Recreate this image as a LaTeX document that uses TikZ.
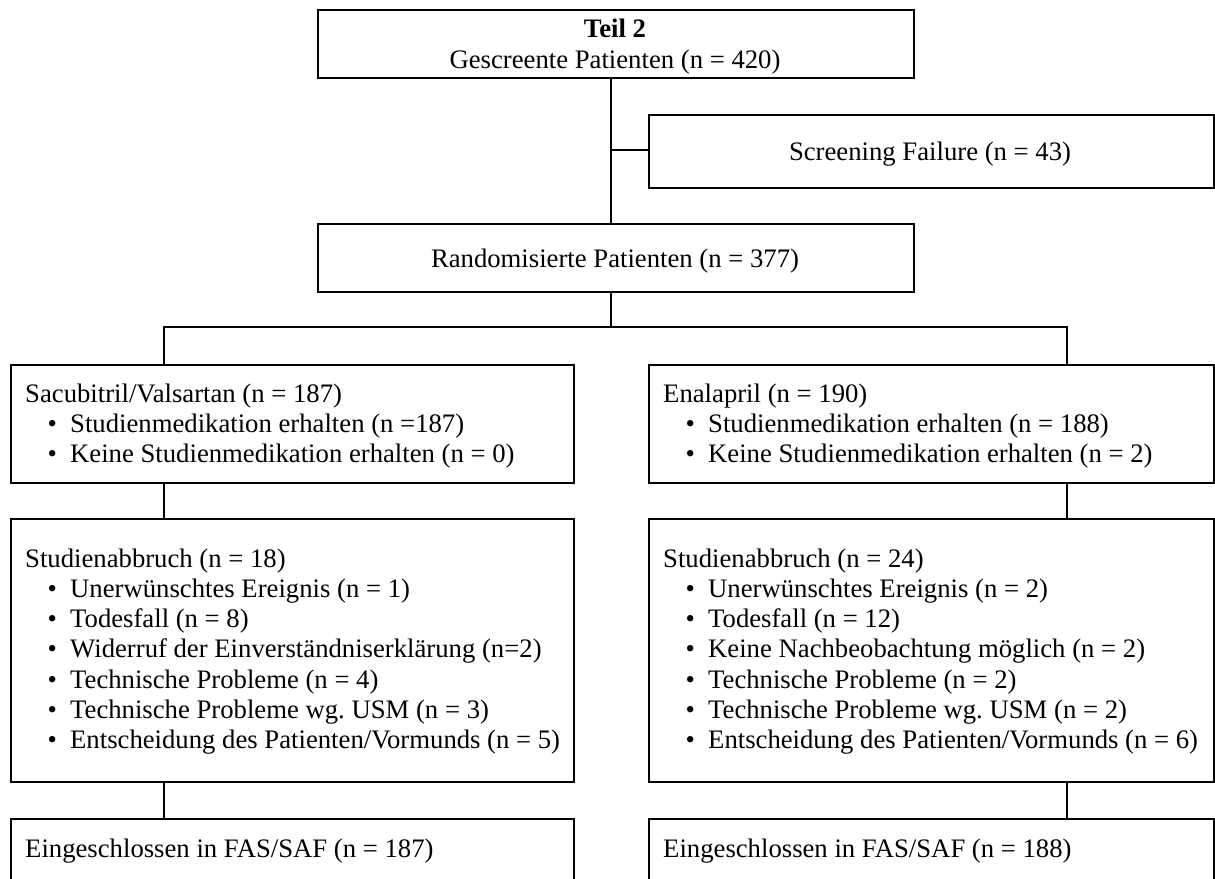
\documentclass[tikz,border=0pt]{standalone}
\usepackage{fontspec}
\setmainfont{Liberation Serif}
\newcommand\fs{\fontsize{26.7pt}{30.3pt}\selectfont\frenchspacing}
\newcommand\hl[1]{\hbox{#1}}
\newcommand\bl[1]{\hbox{\hspace*{22.5pt}\makebox[22.5pt][l]{\textbullet}#1}}
\begin{document}
\begin{tikzpicture}[x=1pt,y=-1pt,
  box/.style={draw, line width=1.6pt, inner sep=0pt, anchor=north west},
  txt/.style={inner sep=0pt, font=\fs},
  conn/.style={line width=1.6pt}]
\useasboundingbox (0,0) rectangle (1215,878);
\begin{scope}
\clip (0,0) rectangle (1215,878);
% boxes
\node[box, minimum width=596pt, minimum height=68pt] (top) at (317,9) {};
\node[box, minimum width=565pt, minimum height=73pt] (scr) at (648,114) {};
\node[box, minimum width=596pt, minimum height=68pt] (rnd) at (317,223) {};
\node[box, minimum width=563pt, minimum height=118pt] (sac) at (10,364) {};
\node[box, minimum width=565pt, minimum height=118pt] (ena) at (648,364) {};
\node[box, minimum width=563pt, minimum height=263pt] (abL) at (10,518) {};
\node[box, minimum width=565pt, minimum height=263pt] (abR) at (648,518) {};
\node[box, minimum width=563pt, minimum height=80pt] (eiL) at (10,818) {};
\node[box, minimum width=565pt, minimum height=80pt] (eiR) at (648,818) {};
% connectors
\coordinate (j1) at (611,150);
\coordinate (bC) at (611,327);
\coordinate (bL) at (164,327);
\coordinate (bR) at (1067,327);
\draw[conn] (top.south -| j1) -- (rnd.north -| j1);
\draw[conn] (j1) -- (scr.west |- j1);
\draw[conn] (rnd.south -| bC) -- (bC);
\draw[conn] (sac.north -| bL) -- (bL) -- (bR) -- (ena.north -| bR);
\draw[conn] (sac.south -| bL) -- (abL.north -| bL);
\draw[conn] (abL.south -| bL) -- (eiL.north -| bL);
\draw[conn] (ena.south -| bR) -- (abR.north -| bR);
\draw[conn] (abR.south -| bR) -- (eiR.north -| bR);
\end{scope}
% texts
\node[txt, anchor=base] (tT) at (615,37) {\bfseries Teil 2};
\node[txt, anchor=base] (tG) at (615,68) {Gescreente Patienten (n = 420)};
\node[txt, anchor=base] (tS) at (930,160) {Screening Failure (n = 43)};
\node[txt, anchor=base] (tR) at (615,267) {Randomisierte Patienten (n = 377)};
\node[txt, anchor=base west] (tsac) at (25,402) {\vtop{%
  \hl{Sacubitril/Valsartan (n = 187)}
  \bl{Studienmedikation erhalten (n =187)}
  \bl{Keine Studienmedikation erhalten (n = 0)}}};
\node[txt, anchor=base west] (tena) at (663,402) {\vtop{%
  \hl{Enalapril (n = 190)}
  \bl{Studienmedikation erhalten (n = 188)}
  \bl{Keine Studienmedikation erhalten (n = 2)}}};
\node[txt, anchor=base west] (tabL) at (25,567) {\vtop{%
  \hl{Studienabbruch (n = 18)}
  \bl{Unerwünschtes Ereignis (n = 1)}
  \bl{Todesfall (n = 8)}
  \bl{Widerruf der Einverständniserklärung (n=2)}
  \bl{Technische Probleme (n = 4)}
  \bl{Technische Probleme wg. USM (n = 3)}
  \bl{Entscheidung des Patienten/Vormunds (n = 5)}}};
\node[txt, anchor=base west] (tabR) at (663,567) {\vtop{%
  \hl{Studienabbruch (n = 24)}
  \bl{Unerwünschtes Ereignis (n = 2)}
  \bl{Todesfall (n = 12)}
  \bl{Keine Nachbeobachtung möglich (n = 2)}
  \bl{Technische Probleme (n = 2)}
  \bl{Technische Probleme wg. USM (n = 2)}
  \bl{Entscheidung des Patienten/Vormunds (n = 6)}}};
\node[txt, anchor=base west] (teiL) at (25,857) {Eingeschlossen in FAS/SAF (n = 187)};
\node[txt, anchor=base west] (teiR) at (663,857) {Eingeschlossen in FAS/SAF (n = 188)};
\end{tikzpicture}
\end{document}
